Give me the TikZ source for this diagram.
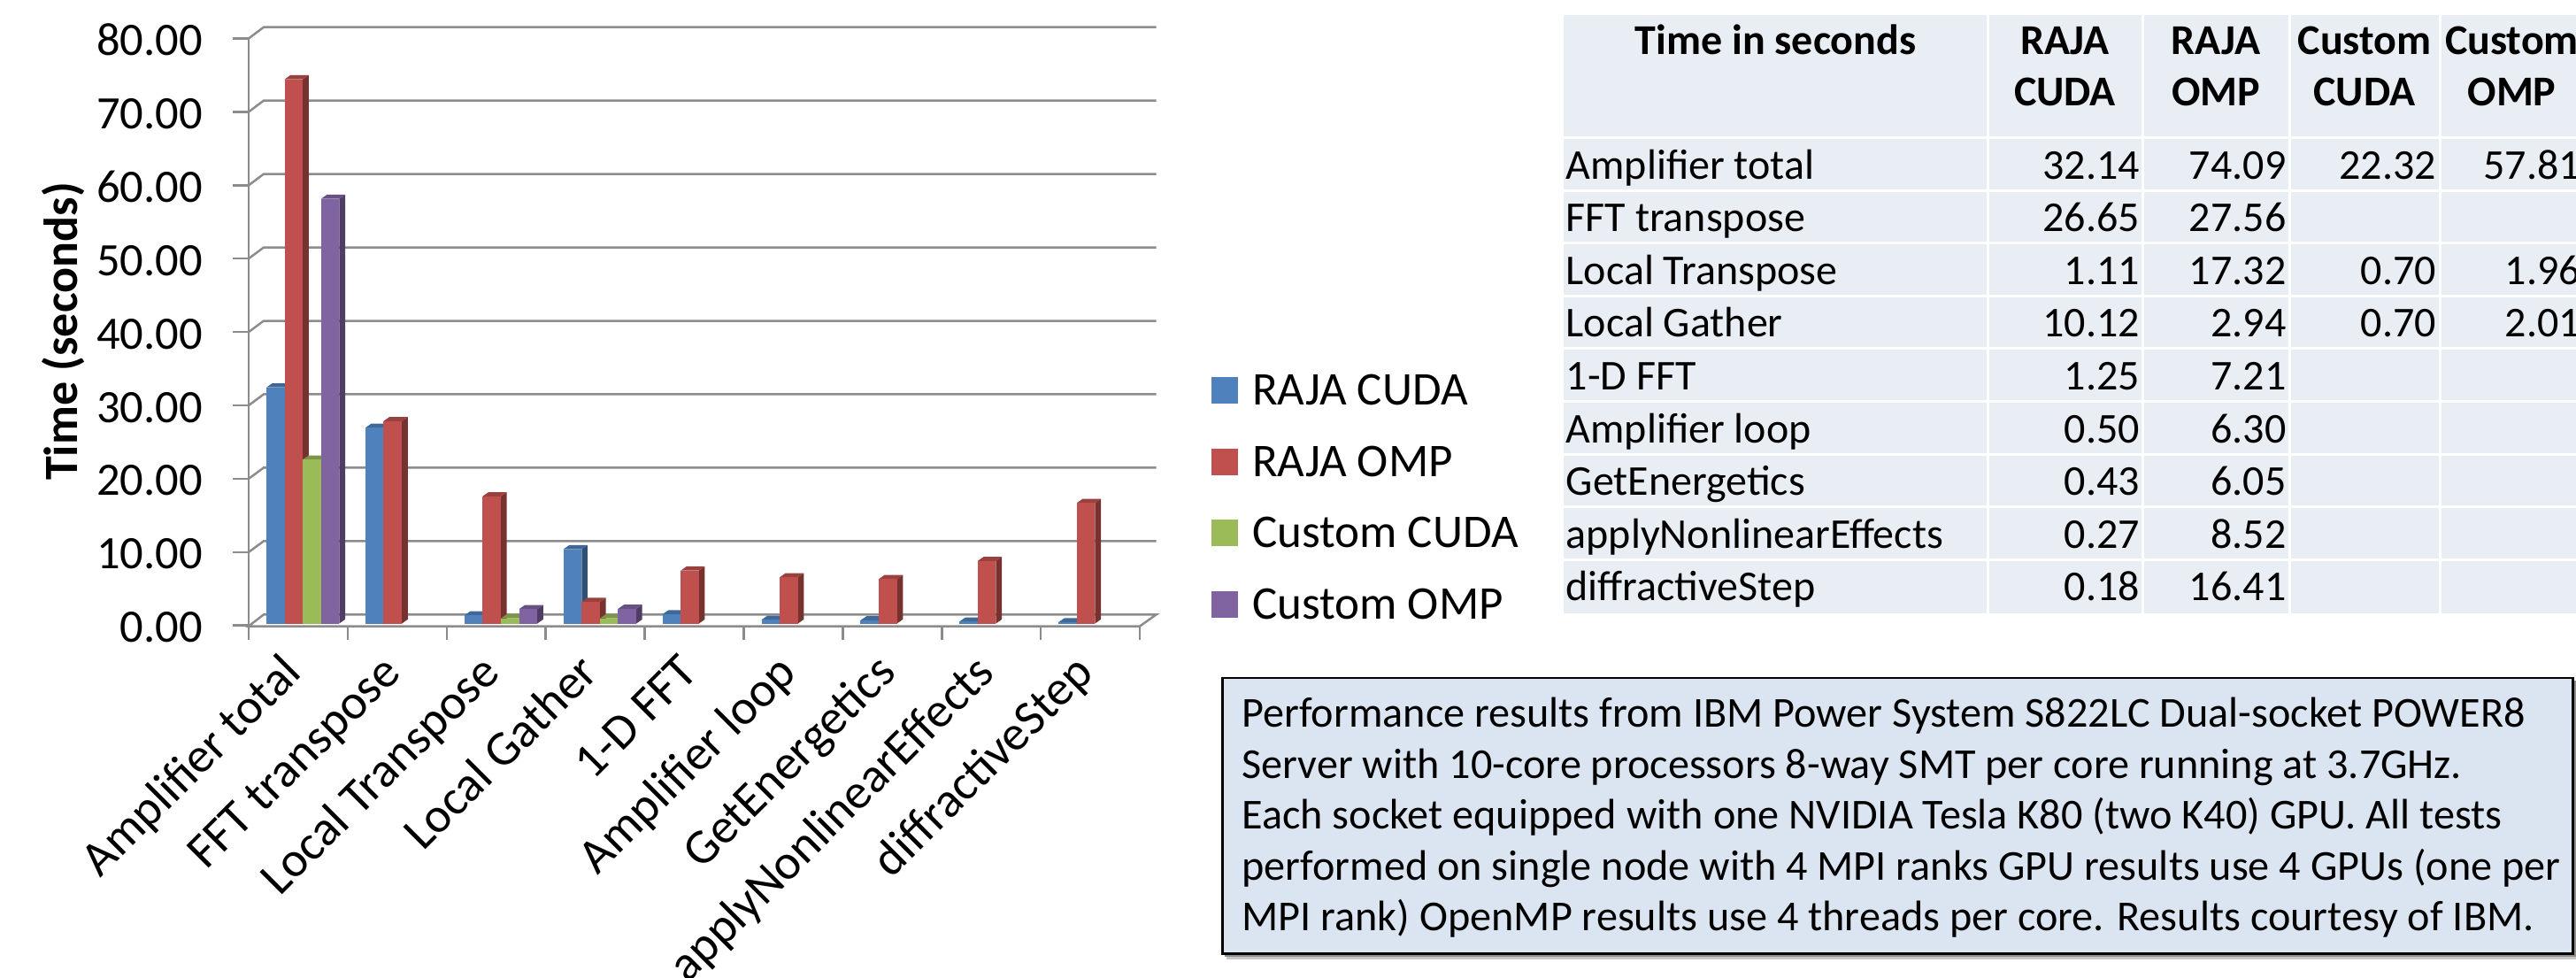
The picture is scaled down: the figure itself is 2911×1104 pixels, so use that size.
\documentclass[tikz,border=0pt]{standalone}
\usepackage{fontspec}
\setmainfont{Carlito}
\definecolor{cblue}{HTML}{4F81BD}
\definecolor{cred}{HTML}{C0504D}
\definecolor{cgreen}{HTML}{9BBB59}
\definecolor{cpurple}{HTML}{8064A2}
\definecolor{axgray}{HTML}{8C8C8C}
\definecolor{tblfill}{HTML}{E9EDF4}
\definecolor{boxfill}{HTML}{DBE5F1}
\newcommand{\mybar}[4]{%
  \pgfmathsetmacro\bl{301+111.9*#1+20.58*#2}%
  \pgfmathsetmacro\br{\bl+20.58}%
  \pgfmathsetmacro\bt{704.5-8.30*#3}%
  \fill[#4!62!black] (\br,704.5) -- (\br+6.7,699.8) -- (\br+6.7,\bt-4.7) -- (\br,\bt) -- cycle;
  \fill[#4!80!black] (\bl,\bt) -- (\bl+6.7,\bt-4.7) -- (\br+6.7,\bt-4.7) -- (\br,\bt) -- cycle;
  \fill[#4] (\bl,704.5) rectangle (\br,\bt);
}
\begin{document}
\begin{tikzpicture}[x=1pt,y=-1pt,
  ylab/.style={font=\fontsize{52.5}{63}\selectfont, inner sep=0pt},
  catlab/.style={font=\fontsize{55.5}{66}\selectfont, inner sep=0pt},
  legtext/.style={font=\fontsize{53}{64}\selectfont, inner sep=0pt},
  tbltext/.style={font=\fontsize{48}{57}\selectfont, inner sep=0pt},
  tblhead/.style={font=\fontsize{48}{57}\selectfont\bfseries, inner sep=0pt},
  boxtext/.style={font=\fontsize{48.2}{57}\selectfont, inner sep=0pt},
  gridln/.style={draw=axgray, line width=2.5pt},
  sepline/.style={draw=white, line width=3pt}]
\useasboundingbox (0,0) rectangle (2911,1104);

% ---------- chart: wall gridlines, ticks, y labels ----------
\foreach \i/\t in {0/0.00,1/10.00,2/20.00,3/30.00,4/40.00,5/50.00,6/60.00,7/70.00,8/80.00}{
  \pgfmathsetmacro\yf{706.7-82.9*\i}
  \pgfmathsetmacro\yb{694.3-82.95*\i}
  \ifnum\i>0 \draw[gridln] (281,\yf) -- (298,\yb) -- (1306.7,\yb); \fi
  \draw[gridln] (263,\yf) -- (281,\yf);
  \node[ylab, anchor=base east] (yl\i) at (229,\yf+19) {\t};
}
% floor
\draw[gridln] (281,707.5) -- (1288,707.5) -- (1306.7,694.3) -- (298,694.3) -- cycle;
% axis line
\draw[gridln] (281,43.7) -- (281,723.3);
% category ticks
\foreach \k in {1,...,9}{
  \draw[gridln] (281+111.9*\k,707.5) -- (281+111.9*\k,723.3);
}
% y title
\node[font=\fontsize{54}{64}\selectfont\bfseries, rotate=90, anchor=base, inner sep=0pt] (ytitle) at (87,374.5) {Time (seconds)};

% ---------- bars ----------
\mybar{0}{0}{32.14}{cblue}\mybar{0}{1}{74.09}{cred}\mybar{0}{2}{22.32}{cgreen}\mybar{0}{3}{57.81}{cpurple}
\mybar{1}{0}{26.65}{cblue}\mybar{1}{1}{27.56}{cred}
\mybar{2}{0}{1.11}{cblue}\mybar{2}{1}{17.32}{cred}\mybar{2}{2}{0.70}{cgreen}\mybar{2}{3}{1.96}{cpurple}
\mybar{3}{0}{10.12}{cblue}\mybar{3}{1}{2.94}{cred}\mybar{3}{2}{0.70}{cgreen}\mybar{3}{3}{2.01}{cpurple}
\mybar{4}{0}{1.25}{cblue}\mybar{4}{1}{7.21}{cred}
\mybar{5}{0}{0.50}{cblue}\mybar{5}{1}{6.30}{cred}
\mybar{6}{0}{0.43}{cblue}\mybar{6}{1}{6.05}{cred}
\mybar{7}{0}{0.27}{cblue}\mybar{7}{1}{8.52}{cred}
\mybar{8}{0}{0.18}{cblue}\mybar{8}{1}{16.41}{cred}

% ---------- category labels ----------
\foreach \k/\t in {0/Amplifier total,1/FFT transpose,2/Local Transpose,3/Local Gather,4/1-D FFT,5/Amplifier loop,6/GetEnergetics,7/applyNonlinearEffects,8/diffractiveStep}{
  \node[catlab, rotate=45, anchor=base east] (cat\k) at (281+111.9*\k+62,762.5) {\t};
}

% ---------- legend ----------
\foreach \i/\c/\t in {0/cblue/RAJA CUDA,1/cred/RAJA OMP,2/cgreen/Custom CUDA,3/cpurple/Custom OMP}{
  \fill[\c] (1369,426+80.67*\i) rectangle (1399,456+80.67*\i);
  \node[legtext, anchor=base west] (leg\i) at (1415,457.5+80.67*\i) {\t};
}

% ---------- table ----------
\fill[tblfill] (1766.7,16.7) rectangle (2930,692.5);
\foreach \i in {0,...,8}{ \draw[sepline] (1766.7,155.5+59.6*\i) -- (2930,155.5+59.6*\i); }
\foreach \x in {2246,2421,2587,2757}{ \draw[sepline] (\x,16.7) -- (\x,692.5); }
\node[tblhead, anchor=base] (h0) at (2006.5,61.7) {Time in seconds};
\node[tblhead, anchor=base] (h1a) at (2333.5,61.7) {RAJA};
\node[tblhead, anchor=base] (h1b) at (2333.5,119.3) {CUDA};
\node[tblhead, anchor=base] (h2a) at (2504,61.7) {RAJA};
\node[tblhead, anchor=base] (h2b) at (2504,119.3) {OMP};
\node[tblhead, anchor=base] (h3a) at (2672,61.7) {Custom};
\node[tblhead, anchor=base] (h3b) at (2672,119.3) {CUDA};
\node[tblhead, anchor=base] (h4a) at (2838.5,61.7) {Custom};
\node[tblhead, anchor=base] (h4b) at (2838.5,119.3) {OMP};
\foreach \i/\t/\a/\b/\c/\d in {1/Amplifier total/32.14/74.09/22.32/57.81,
  2/FFT transpose/26.65/27.56//,
  3/Local Transpose/1.11/17.32/0.70/1.96,
  4/Local Gather/10.12/2.94/0.70/2.01,
  5/1-D FFT/1.25/7.21//,
  6/Amplifier loop/0.50/6.30//,
  7/GetEnergetics/0.43/6.05//,
  8/applyNonlinearEffects/0.27/8.52//,
  9/diffractiveStep/0.18/16.41//}{
  \pgfmathsetmacro\yb{142.5+59.6*\i}
  \node[tbltext, anchor=base west] (r\i) at (1769.5,\yb) {\t};
  \node[tbltext, anchor=base east] (ra\i) at (2418,\yb) {\a};
  \node[tbltext, anchor=base east] (rb\i) at (2583.5,\yb) {\b};
  \node[tbltext, anchor=base east] (rc\i) at (2753,\yb) {\c};
  \node[tbltext, anchor=base east] (rd\i) at (2916,\yb) {\d};
}

% ---------- note box ----------
\fill[black!22] (1385.7,772) rectangle (2914,1084);
\fill[black!45] (1383.7,769) rectangle (2911,1080.5);
\draw[fill=boxfill, line width=2.5pt] (1381.7,766) rectangle (2907.5,1077.3);
\foreach \i/\t in {0/Performance results from IBM Power System S822LC Dual-socket POWER8,
  1/Server with 10-core processors 8-way SMT per core running at 3.7GHz.,
  2/Each socket equipped with one NVIDIA Tesla K80 (two K40) GPU. All tests,
  3/performed on single node with 4 MPI ranks GPU results use 4 GPUs (one per,
  4/MPI rank) OpenMP results use 4 threads per core. Results courtesy of IBM.}{
  \node[boxtext, anchor=base west] (note\i) at (1403.3,821.7+57.5*\i) {\t};
}
\end{tikzpicture}
\end{document}
